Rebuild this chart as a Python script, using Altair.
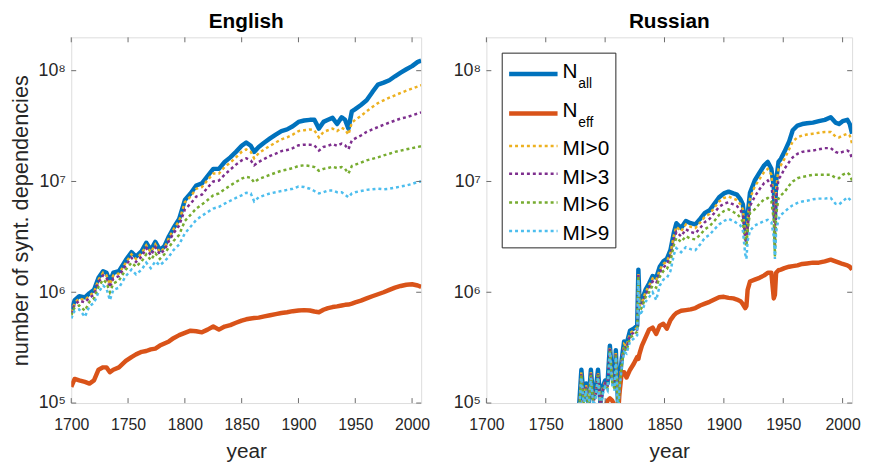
import altair as alt
import pandas as pd

# ---------------- data ----------------
EN_YEARS = [1700, 1703, 1707, 1712, 1716, 1720, 1724, 1728, 1731, 1734,
            1737, 1742, 1748, 1753, 1757, 1762, 1766, 1770, 1774, 1778,
            1782, 1786, 1790, 1795, 1800, 1805, 1810, 1815, 1820, 1825,
            1830, 1835, 1840, 1845, 1850, 1854, 1858, 1861, 1865, 1870,
            1875, 1880, 1885, 1890, 1895, 1900, 1905, 1910, 1914, 1918,
            1922, 1926, 1930, 1934, 1938, 1941, 1944, 1947, 1950, 1955,
            1960, 1965, 1970, 1975, 1980, 1985, 1990, 1995, 2000, 2005, 2008]

EN_NALL = [6.8e5, 8.5e5, 9.2e5, 9.0e5, 9.8e5, 1.05e6, 1.35e6, 1.55e6, 1.5e6, 1.25e6,
           1.5e6, 1.55e6, 1.95e6, 2.3e6, 2.1e6, 2.35e6, 2.8e6, 2.4e6, 2.85e6, 2.4e6,
           2.6e6, 3.2e6, 3.8e6, 4.6e6, 6.8e6, 7.8e6, 9.2e6, 9.6e6, 1.12e7, 1.3e7,
           1.3e7, 1.5e7, 1.65e7, 1.85e7, 2.1e7, 2.25e7, 2.1e7, 1.85e7, 2.05e7, 2.25e7,
           2.45e7, 2.65e7, 2.85e7, 2.95e7, 3.15e7, 3.45e7, 3.55e7, 3.6e7, 3.6e7, 3.0e7,
           3.45e7, 3.6e7, 3.75e7, 3.3e7, 3.8e7, 3.6e7, 3.0e7, 4.3e7, 4.5e7, 4.9e7,
           5.4e7, 6.4e7, 7.5e7, 7.8e7, 8.2e7, 8.9e7, 9.6e7, 1.03e8, 1.1e8, 1.2e8, 1.23e8]

EN_NEFF = [1.4e5, 1.65e5, 1.6e5, 1.55e5, 1.5e5, 1.6e5, 2.0e5, 2.1e5, 2.1e5, 1.9e5,
           2.0e5, 2.1e5, 2.4e5, 2.6e5, 2.75e5, 2.9e5, 2.95e5, 3.05e5, 3.1e5, 3.3e5,
           3.45e5, 3.6e5, 3.85e5, 4.1e5, 4.3e5, 4.5e5, 4.45e5, 4.35e5, 4.6e5, 4.9e5,
           4.6e5, 4.9e5, 5.05e5, 5.3e5, 5.55e5, 5.7e5, 5.8e5, 5.85e5, 5.9e5, 6.05e5,
           6.2e5, 6.35e5, 6.5e5, 6.6e5, 6.75e5, 6.85e5, 6.9e5, 6.85e5, 6.7e5, 6.6e5,
           6.95e5, 7.2e5, 7.35e5, 7.45e5, 7.6e5, 7.7e5, 7.75e5, 7.9e5, 8.1e5, 8.4e5,
           8.8e5, 9.2e5, 9.6e5, 1.0e6, 1.05e6, 1.1e6, 1.14e6, 1.17e6, 1.18e6, 1.15e6, 1.12e6]

EN_MI0 = [6.6e5, 8.0e5, 8.8e5, 8.5e5, 9.3e5, 1.0e6, 1.3e6, 1.5e6, 1.42e6, 1.18e6,
          1.42e6, 1.48e6, 1.85e6, 2.2e6, 2.0e6, 2.25e6, 2.65e6, 2.3e6, 2.7e6, 2.3e6,
          2.5e6, 3.1e6, 3.7e6, 4.4e6, 6.5e6, 7.3e6, 8.6e6, 8.9e6, 1.03e7, 1.18e7,
          1.18e7, 1.35e7, 1.48e7, 1.65e7, 1.85e7, 1.95e7, 1.85e7, 1.62e7, 1.8e7, 1.95e7,
          2.1e7, 2.25e7, 2.4e7, 2.5e7, 2.65e7, 2.85e7, 2.9e7, 2.95e7, 2.9e7, 2.5e7,
          2.8e7, 2.9e7, 3.0e7, 2.85e7, 3.05e7, 2.95e7, 2.65e7, 3.4e7, 3.6e7, 3.9e7,
          4.3e7, 4.7e7, 5.1e7, 5.4e7, 5.7e7, 6.0e7, 6.3e7, 6.6e7, 6.9e7, 7.2e7, 7.4e7]

EN_MI3 = [6.4e5, 7.7e5, 8.4e5, 8.1e5, 8.9e5, 9.5e5, 1.23e6, 1.42e6, 1.35e6, 1.1e6,
          1.33e6, 1.4e6, 1.75e6, 2.05e6, 1.88e6, 2.1e6, 2.5e6, 2.15e6, 2.55e6, 2.2e6,
          2.4e6, 2.9e6, 3.4e6, 4.0e6, 5.6e6, 6.3e6, 7.3e6, 7.6e6, 8.8e6, 1.0e7,
          1.02e7, 1.15e7, 1.28e7, 1.42e7, 1.55e7, 1.62e7, 1.55e7, 1.4e7, 1.5e7, 1.6e7,
          1.7e7, 1.78e7, 1.88e7, 1.92e7, 2.0e7, 2.12e7, 2.15e7, 2.15e7, 2.12e7, 1.9e7,
          2.05e7, 2.1e7, 2.18e7, 2.1e7, 2.2e7, 2.12e7, 1.95e7, 2.35e7, 2.45e7, 2.6e7,
          2.8e7, 2.95e7, 3.1e7, 3.25e7, 3.4e7, 3.55e7, 3.7e7, 3.8e7, 3.95e7, 4.1e7, 4.2e7]

EN_MI6 = [6.2e5, 7.3e5, 7.6e5, 6.8e5, 8.2e5, 8.8e5, 1.12e6, 1.3e6, 1.22e6, 1.0e6,
          1.2e6, 1.28e6, 1.6e6, 1.85e6, 1.7e6, 1.9e6, 2.2e6, 1.95e6, 2.25e6, 2.0e6,
          2.2e6, 2.55e6, 2.9e6, 3.3e6, 4.4e6, 5.0e6, 5.7e6, 6.2e6, 6.8e6, 7.5e6,
          7.8e6, 8.5e6, 9.2e6, 9.9e6, 1.06e7, 1.1e7, 1.08e7, 9.8e6, 1.05e7, 1.1e7,
          1.15e7, 1.2e7, 1.25e7, 1.28e7, 1.32e7, 1.38e7, 1.4e7, 1.38e7, 1.35e7, 1.25e7,
          1.3e7, 1.32e7, 1.36e7, 1.32e7, 1.35e7, 1.3e7, 1.18e7, 1.38e7, 1.42e7, 1.48e7,
          1.55e7, 1.6e7, 1.65e7, 1.72e7, 1.78e7, 1.85e7, 1.9e7, 1.95e7, 2.0e7, 2.05e7, 2.08e7]

EN_MI9 = [5.8e5, 6.8e5, 7.0e5, 6.0e5, 7.5e5, 8.0e5, 1.0e6, 1.15e6, 1.08e6, 8.5e5,
          1.05e6, 1.1e6, 1.4e6, 1.6e6, 1.45e6, 1.6e6, 1.85e6, 1.65e6, 1.9e6, 1.75e6,
          1.9e6, 2.1e6, 2.4e6, 2.7e6, 3.4e6, 3.9e6, 4.5e6, 4.9e6, 5.3e6, 5.7e6,
          5.9e6, 6.3e6, 6.7e6, 7.1e6, 7.5e6, 7.9e6, 7.8e6, 6.6e6, 7.2e6, 7.5e6,
          7.8e6, 8.0e6, 8.2e6, 8.4e6, 8.6e6, 9.0e6, 8.9e6, 8.6e6, 8.2e6, 7.8e6,
          8.0e6, 8.3e6, 8.3e6, 8.0e6, 8.0e6, 7.6e6, 7.2e6, 7.8e6, 8.0e6, 8.2e6,
          8.4e6, 8.5e6, 8.6e6, 8.5e6, 8.6e6, 8.8e6, 9.0e6, 9.2e6, 9.5e6, 9.9e6, 1.0e7]

RU_YEARS = [1778, 1780, 1782, 1784, 1786, 1788, 1790, 1792, 1794, 1796,
            1798, 1800, 1802, 1804, 1806, 1808, 1809, 1811, 1812, 1814,
            1816, 1818, 1821, 1824, 1827, 1828, 1829, 1831, 1834, 1837,
            1840, 1843, 1846, 1849, 1852, 1855, 1858, 1860, 1864, 1868,
            1872, 1876, 1880, 1884, 1888, 1892, 1896, 1900, 1904, 1908,
            1911, 1914, 1916, 1918, 1919, 1920, 1922, 1926, 1930, 1934,
            1937, 1940, 1942, 1943, 1944, 1946, 1948, 1951, 1955, 1958,
            1962, 1966, 1970, 1975, 1980, 1985, 1990, 1994, 1997, 2000,
            2004, 2006, 2008]

RU_NALL = [9e4, 2.0e5, 1.1e5, 1.5e5, 1.0e5, 2.0e5, 1.1e5, 1.3e5, 2.0e5, 1.0e5,
           1.4e5, 1.6e5, 1.5e5, 3.3e5, 1.7e5, 1.5e5, 3.0e5, 9e4, 1.5e5, 2.5e5,
           3.6e5, 3.4e5, 4.5e5, 4.7e5, 5.0e5, 1.6e6, 8.0e5, 8.5e5, 1.05e6, 1.2e6,
           1.4e6, 1.35e6, 1.7e6, 1.9e6, 2.0e6, 2.4e6, 3.5e6, 4.2e6, 3.8e6, 4.4e6,
           4.2e6, 4.1e6, 4.6e6, 5.2e6, 5.5e6, 6.3e6, 7.2e6, 7.8e6, 8.1e6, 7.8e6,
           7.6e6, 6.9e6, 6.2e6, 3.8e6, 3.5e6, 5.0e6, 7.9e6, 1.02e7, 1.2e7, 1.4e7,
           1.5e7, 1.3e7, 9.0e6, 4.6e6, 1.0e7, 1.5e7, 1.6e7, 1.85e7, 2.3e7, 2.9e7,
           3.2e7, 3.3e7, 3.35e7, 3.4e7, 3.5e7, 3.6e7, 3.8e7, 3.4e7, 3.3e7, 3.5e7,
           3.6e7, 3.3e7, 2.7e7]

RU_NEFF = [None, None, None, None, None, None, None, None, None, None,
           None, 9e4, 1.05e5, 1.1e5, 1.05e5, 9.5e4, 9e4, 8e4, 1.2e5, 1.9e5,
           1.9e5, 1.7e5, 2.0e5, 2.25e5, 2.6e5, 2.5e5, 2.8e5, 3.3e5, 3.9e5, 4.6e5,
           4.8e5, 4.2e5, 5.0e5, 5.2e5, 4.7e5, 5.6e5, 6.2e5, 6.5e5, 6.8e5, 6.9e5,
           7.0e5, 7.2e5, 7.6e5, 7.9e5, 8.2e5, 8.6e5, 9.0e5, 9.1e5, 8.9e5, 8.8e5,
           8.6e5, 8.3e5, 7.8e5, 7.2e5, 7.5e5, 1.05e6, 1.25e6, 1.3e6, 1.35e6, 1.42e6,
           1.5e6, 1.5e6, 8.8e5, 9.5e5, 1.5e6, 1.58e6, 1.6e6, 1.65e6, 1.7e6, 1.72e6,
           1.75e6, 1.8e6, 1.82e6, 1.85e6, 1.85e6, 1.9e6, 1.97e6, 1.9e6, 1.85e6, 1.8e6,
           1.75e6, 1.7e6, 1.6e6]

RU_MI0 = [8.5e4, 1.9e5, 1.05e5, 1.45e5, 9.5e4, 1.9e5, 1.05e5, 1.25e5, 1.9e5, 9.5e4,
          1.35e5, 1.55e5, 1.45e5, 3.2e5, 1.6e5, 1.45e5, 2.9e5, 8.5e4, 1.45e5, 2.4e5,
          3.4e5, 3.25e5, 4.3e5, 4.5e5, 4.8e5, 1.5e6, 7.6e5, 8.1e5, 1.0e6, 1.15e6,
          1.33e6, 1.28e6, 1.6e6, 1.8e6, 1.9e6, 2.25e6, 3.3e6, 3.9e6, 3.55e6, 4.1e6,
          3.9e6, 3.8e6, 4.25e6, 4.8e6, 5.1e6, 5.8e6, 6.6e6, 7.1e6, 7.3e6, 7.0e6,
          6.8e6, 6.2e6, 5.6e6, 3.3e6, 3.0e6, 4.5e6, 7.0e6, 9.0e6, 1.05e7, 1.22e7,
          1.3e7, 1.15e7, 7.0e6, 2.8e6, 8.5e6, 1.3e7, 1.4e7, 1.6e7, 1.95e7, 2.3e7,
          2.5e7, 2.6e7, 2.65e7, 2.7e7, 2.75e7, 2.8e7, 2.8e7, 2.55e7, 2.5e7, 2.6e7,
          2.7e7, 2.6e7, 2.2e7]

RU_MI3 = [8.2e4, 1.85e5, 1.0e5, 1.4e5, 9.2e4, 1.85e5, 1.0e5, 1.2e5, 1.85e5, 9.2e4,
          1.3e5, 1.5e5, 1.4e5, 3.1e5, 1.55e5, 1.4e5, 2.8e5, 8.2e4, 1.4e5, 2.3e5,
          3.25e5, 3.1e5, 4.1e5, 4.3e5, 4.6e5, 1.45e6, 7.2e5, 7.7e5, 9.5e5, 1.08e6,
          1.25e6, 1.2e6, 1.5e6, 1.68e6, 1.78e6, 2.1e6, 3.0e6, 3.5e6, 3.2e6, 3.7e6,
          3.5e6, 3.4e6, 3.8e6, 4.3e6, 4.6e6, 5.2e6, 5.9e6, 6.3e6, 6.5e6, 6.2e6,
          6.0e6, 5.5e6, 5.0e6, 3.0e6, 2.8e6, 4.0e6, 6.0e6, 7.3e6, 8.5e6, 9.7e6,
          1.02e7, 9.2e6, 6.0e6, 2.6e6, 7.0e6, 1.05e7, 1.12e7, 1.3e7, 1.5e7, 1.65e7,
          1.78e7, 1.85e7, 1.88e7, 1.9e7, 1.95e7, 2.0e7, 2.0e7, 1.85e7, 1.8e7, 1.85e7,
          1.9e7, 1.85e7, 1.6e7]

RU_MI6 = [8.0e4, 1.8e5, 9.8e4, 1.35e5, 9.0e4, 1.8e5, 9.8e4, 1.15e5, 1.8e5, 9.0e4,
          1.25e5, 1.45e5, 1.35e5, 3.0e5, 1.5e5, 1.35e5, 2.7e5, 8.0e4, 1.35e5, 2.2e5,
          3.1e5, 2.95e5, 3.9e5, 4.1e5, 4.4e5, 1.4e6, 6.8e5, 7.3e5, 9.0e5, 1.0e6,
          1.15e6, 1.1e6, 1.38e6, 1.55e6, 1.62e6, 1.9e6, 2.7e6, 3.1e6, 2.85e6, 3.2e6,
          3.05e6, 3.0e6, 3.3e6, 3.7e6, 3.95e6, 4.4e6, 5.0e6, 5.4e6, 5.6e6, 5.3e6,
          5.1e6, 4.7e6, 4.3e6, 2.8e6, 2.6e6, 3.6e6, 5.2e6, 5.6e6, 6.3e6, 6.9e6,
          7.1e6, 6.6e6, 4.5e6, 2.1e6, 5.0e6, 7.0e6, 7.5e6, 8.0e6, 9.2e6, 1.0e7,
          1.07e7, 1.1e7, 1.12e7, 1.15e7, 1.15e7, 1.15e7, 1.15e7, 1.08e7, 1.07e7, 1.15e7,
          1.2e7, 1.15e7, 1.02e7]

RU_MI9 = [7.5e4, 1.7e5, 9.5e4, 1.3e5, 8.5e4, 1.7e5, 9.5e4, 1.1e5, 1.7e5, 8.5e4,
          1.2e5, 1.4e5, 1.3e5, 2.9e5, 1.45e5, 1.3e5, 2.6e5, 7.5e4, 1.3e5, 2.1e5,
          2.9e5, 2.8e5, 3.6e5, 3.8e5, 4.1e5, 1.3e6, 6.2e5, 6.7e5, 8.2e5, 9.0e5,
          1.0e6, 8.5e5, 1.15e6, 1.3e6, 1.35e6, 1.55e6, 2.2e6, 2.5e6, 2.3e6, 2.55e6,
          2.45e6, 2.4e6, 2.7e6, 3.1e6, 3.3e6, 3.7e6, 4.1e6, 4.4e6, 4.6e6, 4.4e6,
          4.2e6, 4.0e6, 3.6e6, 2.2e6, 2.0e6, 2.9e6, 3.6e6, 4.0e6, 4.2e6, 4.4e6,
          4.5e6, 4.3e6, 3.2e6, 2.0e6, 3.5e6, 4.6e6, 5.0e6, 5.3e6, 5.8e6, 6.1e6,
          6.4e6, 6.6e6, 6.7e6, 6.9e6, 7.0e6, 7.0e6, 7.1e6, 6.3e6, 6.2e6, 6.6e6,
          7.2e6, 6.9e6, 6.5e6]

X_TICKS = [1700, 1750, 1800, 1850, 1900, 1950, 2000]
Y_TICKS = [1e5, 1e6, 1e7, 1e8]

SERIES = ["N_all", "N_eff", "MI>0", "MI>3", "MI>6", "MI>9"]
COLORS = ["#0072BD", "#D95319", "#EDB120", "#7E2F8E", "#77AC30", "#4DBEEE"]

FONT = "Liberation Sans"
H = 370
AX_COLOR = "#262626"
BOX = "#6b6b6b"

SUP = "({'5':'\u2075','6':'\u2076','7':'\u2077','8':'\u2078'})[format(log(datum.value)/LN10,'.0f')]"


def panel(years, cols, title, width, ytitle, legend):
    X = alt.X("year:Q",
              scale=alt.Scale(domain=[1700, 2008], nice=False, zero=False),
              axis=alt.Axis(values=X_TICKS, format="d", ticks=False, tickSize=0,
                            domain=False, grid=False, labelFlush=False, labelFontSize=16,
                            labelColor=AX_COLOR, labelFont=FONT, labelPadding=14,
                            titleFontSize=21, titleFont=FONT, titleColor=AX_COLOR,
                            titleFontWeight="normal", titlePadding=8),
              title="year")
    yaxis = dict(values=Y_TICKS, ticks=False, tickSize=0, domain=False, grid=False,
                 labelFlush=False, labelFontSize=18, labelColor=AX_COLOR, labelFont=FONT,
                 labelPadding=6, labelExpr="'10' + " + SUP)
    if ytitle:
        yaxis.update(titleFontSize=22, titleFont=FONT, titleColor=AX_COLOR,
                     titleFontWeight="normal", titlePadding=6)
        Y = alt.Y("value:Q", scale=alt.Scale(type="log", domain=[1e5, 2e8], nice=False),
                  axis=alt.Axis(**yaxis), title=ytitle)
    else:
        Y = alt.Y("value:Q", scale=alt.Scale(type="log", domain=[1e5, 2e8], nice=False),
                  axis=alt.Axis(**yaxis), title=None)

    layers = []
    for name, vals, color in zip(SERIES, cols, COLORS):
        assert len(vals) == len(years), (title, name, len(vals), len(years))
        df = pd.DataFrame({"year": years, "value": vals}).dropna()
        if name in ("N_all", "N_eff"):
            m = alt.Chart(df).mark_line(clip=True, color=color, strokeWidth=4.5,
                                        strokeJoin="round")
        else:
            m = alt.Chart(df).mark_line(clip=True, color=color, strokeWidth=2.5,
                                        strokeDash=[3, 3])
        layers.append(m.encode(x=X, y=Y))

    # inward ticks (MATLAB box style)
    xt = pd.DataFrame({"year": X_TICKS})
    yt = pd.DataFrame({"value": Y_TICKS})
    tk = dict(color=BOX, strokeWidth=1)
    layers.append(alt.Chart(xt).mark_rule(**tk).encode(x=X, y=alt.value(H), y2=alt.value(H - 5)))
    layers.append(alt.Chart(xt).mark_rule(**tk).encode(x=X, y=alt.value(0), y2=alt.value(5)))
    layers.append(alt.Chart(yt).mark_rule(**tk).encode(y=Y, x=alt.value(0), x2=alt.value(5)))
    layers.append(alt.Chart(yt).mark_rule(**tk).encode(y=Y, x=alt.value(width), x2=alt.value(width - 5)))

    if legend:
        one = alt.Data(values=[{"k": 0}])
        layers.append(alt.Chart(one).mark_rect(fill="white", stroke=AX_COLOR, strokeWidth=1).encode(
            x=alt.value(16), x2=alt.value(131), y=alt.value(16), y2=alt.value(213)))
        ly = [37, 77, 110, 138, 167, 196]
        for name, color, yy in zip(SERIES, COLORS, ly):
            if name in ("N_all", "N_eff"):
                mk = alt.Chart(one).mark_rule(color=color, strokeWidth=4.5)
            else:
                mk = alt.Chart(one).mark_rule(color=color, strokeWidth=2.5, strokeDash=[3, 3])
            layers.append(mk.encode(x=alt.value(23), x2=alt.value(72), y=alt.value(yy)))
        texts = [("N", 77, 41, 21), ("all", 93, 51, 14),
                 ("N", 77, 81, 21), ("eff", 93, 91, 14),
                 ("MI>0", 77, 119, 21), ("MI>3", 77, 148, 21),
                 ("MI>6", 77, 176, 21), ("MI>9", 77, 205, 21)]
        for t, xx, yy, fs in texts:
            layers.append(alt.Chart(one).mark_text(align="left", baseline="alphabetic",
                                                   fontSize=fs, font=FONT, color="black").encode(
                x=alt.value(xx), y=alt.value(yy), text=alt.value(t)))

    return alt.layer(*layers).properties(
        width=width, height=H,
        title=alt.TitleParams(title, fontSize=21, fontWeight="bold", font=FONT,
                              color="black", offset=5, anchor="middle"))


left = panel(EN_YEARS, [EN_NALL, EN_NEFF, EN_MI0, EN_MI3, EN_MI6, EN_MI9],
             "English", 354, "number of synt. dependencies", False)
right = panel(RU_YEARS, [RU_NALL, RU_NEFF, RU_MI0, RU_MI3, RU_MI6, RU_MI9],
              "Russian", 370, None, True)

chart = alt.hconcat(left, right, spacing=21).properties(
    padding={"left": 0, "top": 0, "right": 0, "bottom": 0}
).configure_view(stroke=BOX, strokeWidth=1).configure(background="white")

chart.save("out.html", embed_options={"renderer": "svg", "actions": False})
